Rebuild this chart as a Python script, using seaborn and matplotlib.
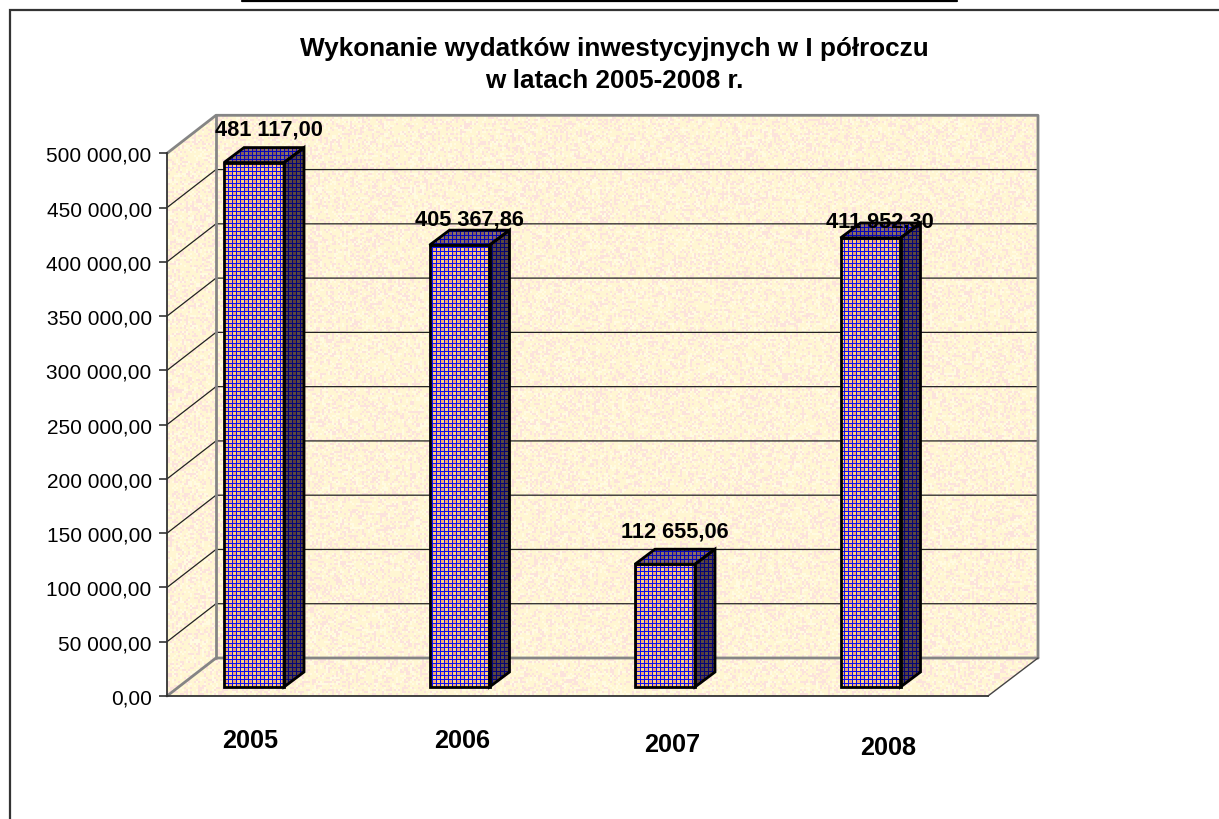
import matplotlib
matplotlib.use("Agg")
import matplotlib.pyplot as plt
import numpy as np
import seaborn as sns
import pandas as pd
from matplotlib.patches import Polygon
from matplotlib.ticker import FixedLocator, FixedFormatter

years = ["2005", "2006", "2007", "2008"]
values = [481117.00, 405367.86, 112655.06, 411952.30]
value_labels = ["481 117,00", "405 367,86", "112 655,06", "411 952,30"]
tick_values = [0, 50000, 100000, 150000, 200000, 250000, 300000, 350000, 400000, 450000, 500000]
tick_labels = ["0,00", "50 000,00", "100 000,00", "150 000,00", "200 000,00", "250 000,00",
               "300 000,00", "350 000,00", "400 000,00", "450 000,00", "500 000,00"]
title = "Wykonanie wydatków inwestycyjnych w I półroczu\nw latach 2005-2008 r."

W, H = 1219, 820
sns.set_theme(style="white")
plt.rcParams["font.family"] = ["Liberation Sans", "DejaVu Sans"]
fig = plt.figure(figsize=(W / 100, H / 100), dpi=100, facecolor="white")


def rgb(h):
    return np.array([int(h[i:i + 2], 16) for i in (1, 3, 5)], float) / 255


# ---- textures (fixed pixel patterns for the paper fill, not data)
yy, xx = np.mgrid[0:H, 0:W]
u, v = xx // 2, yy // 2
code = ((u * 73856093) ^ (v * 19349663)) % 251
wall = np.empty((H, W, 3))
wall[:] = rgb("#FFF6D2")
wall[code % 3 == 0] = rgb("#FCE2DC")
wall[code % 5 == 1] = rgb("#FFFBE2")

plaid = np.empty((H, W, 3))
plaid[:] = rgb("#FFD080")
plaid[((xx // 4 + yy // 4) % 2 == 0)] = rgb("#F0A878")
plaid[(xx % 4 == 0) | (yy % 4 == 0)] = rgb("#0C0CF0")


def textured(axis, image, pts, tint=(1.0, 1.0, 1.0)):
    patch = Polygon(pts, closed=True, transform=axis.transData, lw=0, fill=False)
    axis.add_patch(patch)
    im = axis.imshow(np.clip(image * np.array(tint), 0, 1), extent=(0, W, H, 0), aspect="auto",
                     interpolation="nearest", zorder=4)
    im.set_clip_path(patch)
    axis.set_xlim(0, W)
    axis.set_ylim(H, 0)


# ---- background layer in pixel coordinates
bg = fig.add_axes([0, 0, 1, 1])
bg.set_xlim(0, W); bg.set_ylim(H, 0); bg.axis("off")

FX0, FX1, FT, FB = 167, 988, 154.3, 697.0
DX, DY = 49, -38
BX1 = FX1 + DX + 1
walls = [
    [(FX0 + DX, FT + DY), (BX1, FT + DY), (BX1, FB + DY), (FX0 + DX, FB + DY)],
    [(FX0, FT), (FX0 + DX, FT + DY), (FX0 + DX, FB + DY), (FX0, FB)],
    [(FX0, FB), (FX0 + DX, FB + DY), (BX1, FB + DY), (FX1, FB)],
]
for pts in walls:
    textured(bg, wall, pts)

bg.plot([10, 10, W], [H, 11, 11], color="#333333", lw=1.6, solid_joinstyle="miter", zorder=5)
bg.plot([242, 957], [2, 2], color="black", lw=1.6, zorder=5)

step = (FB - FT) / (len(tick_values) - 1)
for i in range(1, len(tick_values) - 1):
    yf = FB - i * step
    bg.plot([FX0, FX0 + DX, BX1], [yf, yf + DY, yf + DY], color="#222222", lw=0.9, zorder=5)
gray = "#858585"
bg.plot([FX0, FX0 + DX, BX1, BX1], [FT, FT + DY, FT + DY, FB + DY], color=gray, lw=2.0, zorder=6)
bg.plot([FX0, FX0 + DX, BX1], [FB, FB + DY, FB + DY], color=gray, lw=2.0, zorder=6)
bg.plot([FX0 + DX, FX0 + DX], [FT + DY, FB + DY], color=gray, lw=2.0, zorder=6)
bg.plot([FX1, BX1], [FB, FB + DY], color="#444444", lw=1.0, zorder=6)

# ---- value axis on the front plane
tax = fig.add_axes([FX0 / W, 1 - FB / H, (FX1 - FX0) / W, (FB - FT) / H], facecolor="none")
tax.set_ylim(0, 500000); tax.set_xlim(0, 1)
tax.yaxis.set_major_locator(FixedLocator(tick_values))
tax.yaxis.set_major_formatter(FixedFormatter(tick_labels))
tax.set_xticks([])
tax.tick_params(axis="y", left=True, length=6, width=1.2, color="#333333", labelsize=15,
                labelcolor="black", pad=5)
for s in ["top", "right"]:
    tax.spines[s].set_visible(False)
tax.spines["left"].set_color("#333333"); tax.spines["left"].set_linewidth(1.3)
tax.spines["bottom"].set_color("#333333"); tax.spines["bottom"].set_linewidth(1.3)

# ---- bars: y=0 at pixel 688, 1.09 px per 1000, categories 205.5 px apart, first at 254
ax = fig.add_axes([0, 0, 1, 1], facecolor="none")
df = pd.DataFrame({"rok": years, "wartosc": values})
sns.barplot(data=df, x="rok", y="wartosc", ax=ax, color="#5A50E0", saturation=1, width=60 / 205.5, zorder=3)
SX, SY = 205.5, 1.09 / 1000
ax.set_xlim(-254 / SX, (W - 254) / SX)
ax.set_ylim((688 - H) / SY, 688 / SY)
ax.axis("off")

# ---- overlay: depth faces, textures and labels, all derived from the drawn bars
fg = fig.add_axes([0, 0, 1, 1], facecolor="none")
fg.set_xlim(0, W); fg.set_ylim(H, 0); fg.axis("off")


def to_px(x, y):
    return SX * x + 254, 688 - SY * y


offs = [(15, -34), (10, -26), (9.5, -33), (9.5, -17)]
D = (20, -15)
for p, lab, off in zip(list(ax.patches), value_labels, offs):
    x0, x1 = p.get_x(), p.get_x() + p.get_width()
    top = p.get_height()
    (a, t), (b, base) = to_px(x0, top), to_px(x1, 0)
    front = [(a, t), (b, t), (b, base), (a, base)]
    side = [(b, t), (b + D[0], t + D[1]), (b + D[0], base + D[1]), (b, base)]
    lid = [(a, t), (a + D[0], t + D[1]), (b + D[0], t + D[1]), (b, t)]
    textured(fg, plaid, front)
    textured(fg, plaid, side, (0.36, 0.36, 0.5))
    textured(fg, plaid, lid, (0.55, 0.55, 0.78))
    for pts in (front, side, lid):
        fg.add_patch(Polygon(pts, closed=True, fill=False, edgecolor="black", lw=2.0, zorder=6))
    fg.text((a + b) / 2 + off[0], t + off[1], lab, ha="center", va="center", fontsize=15.7,
            fontweight="bold", color="black", zorder=8)

bg.set_zorder(0); tax.set_zorder(1); ax.set_zorder(2); fg.set_zorder(3)

cat_pos = [(250, 741), (462, 741), (672, 745), (888, 748)]
for yr, (cx, cy) in zip(years, cat_pos):
    fg.text(cx, cy, yr, ha="center", va="center", fontsize=18.2, fontweight="bold", color="black")

fg.text(614.5, 65, title, ha="center", va="center", fontsize=18.8, fontweight="bold",
        color="black", linespacing=1.45)

fig.savefig("out.png", dpi=100, facecolor="white")
